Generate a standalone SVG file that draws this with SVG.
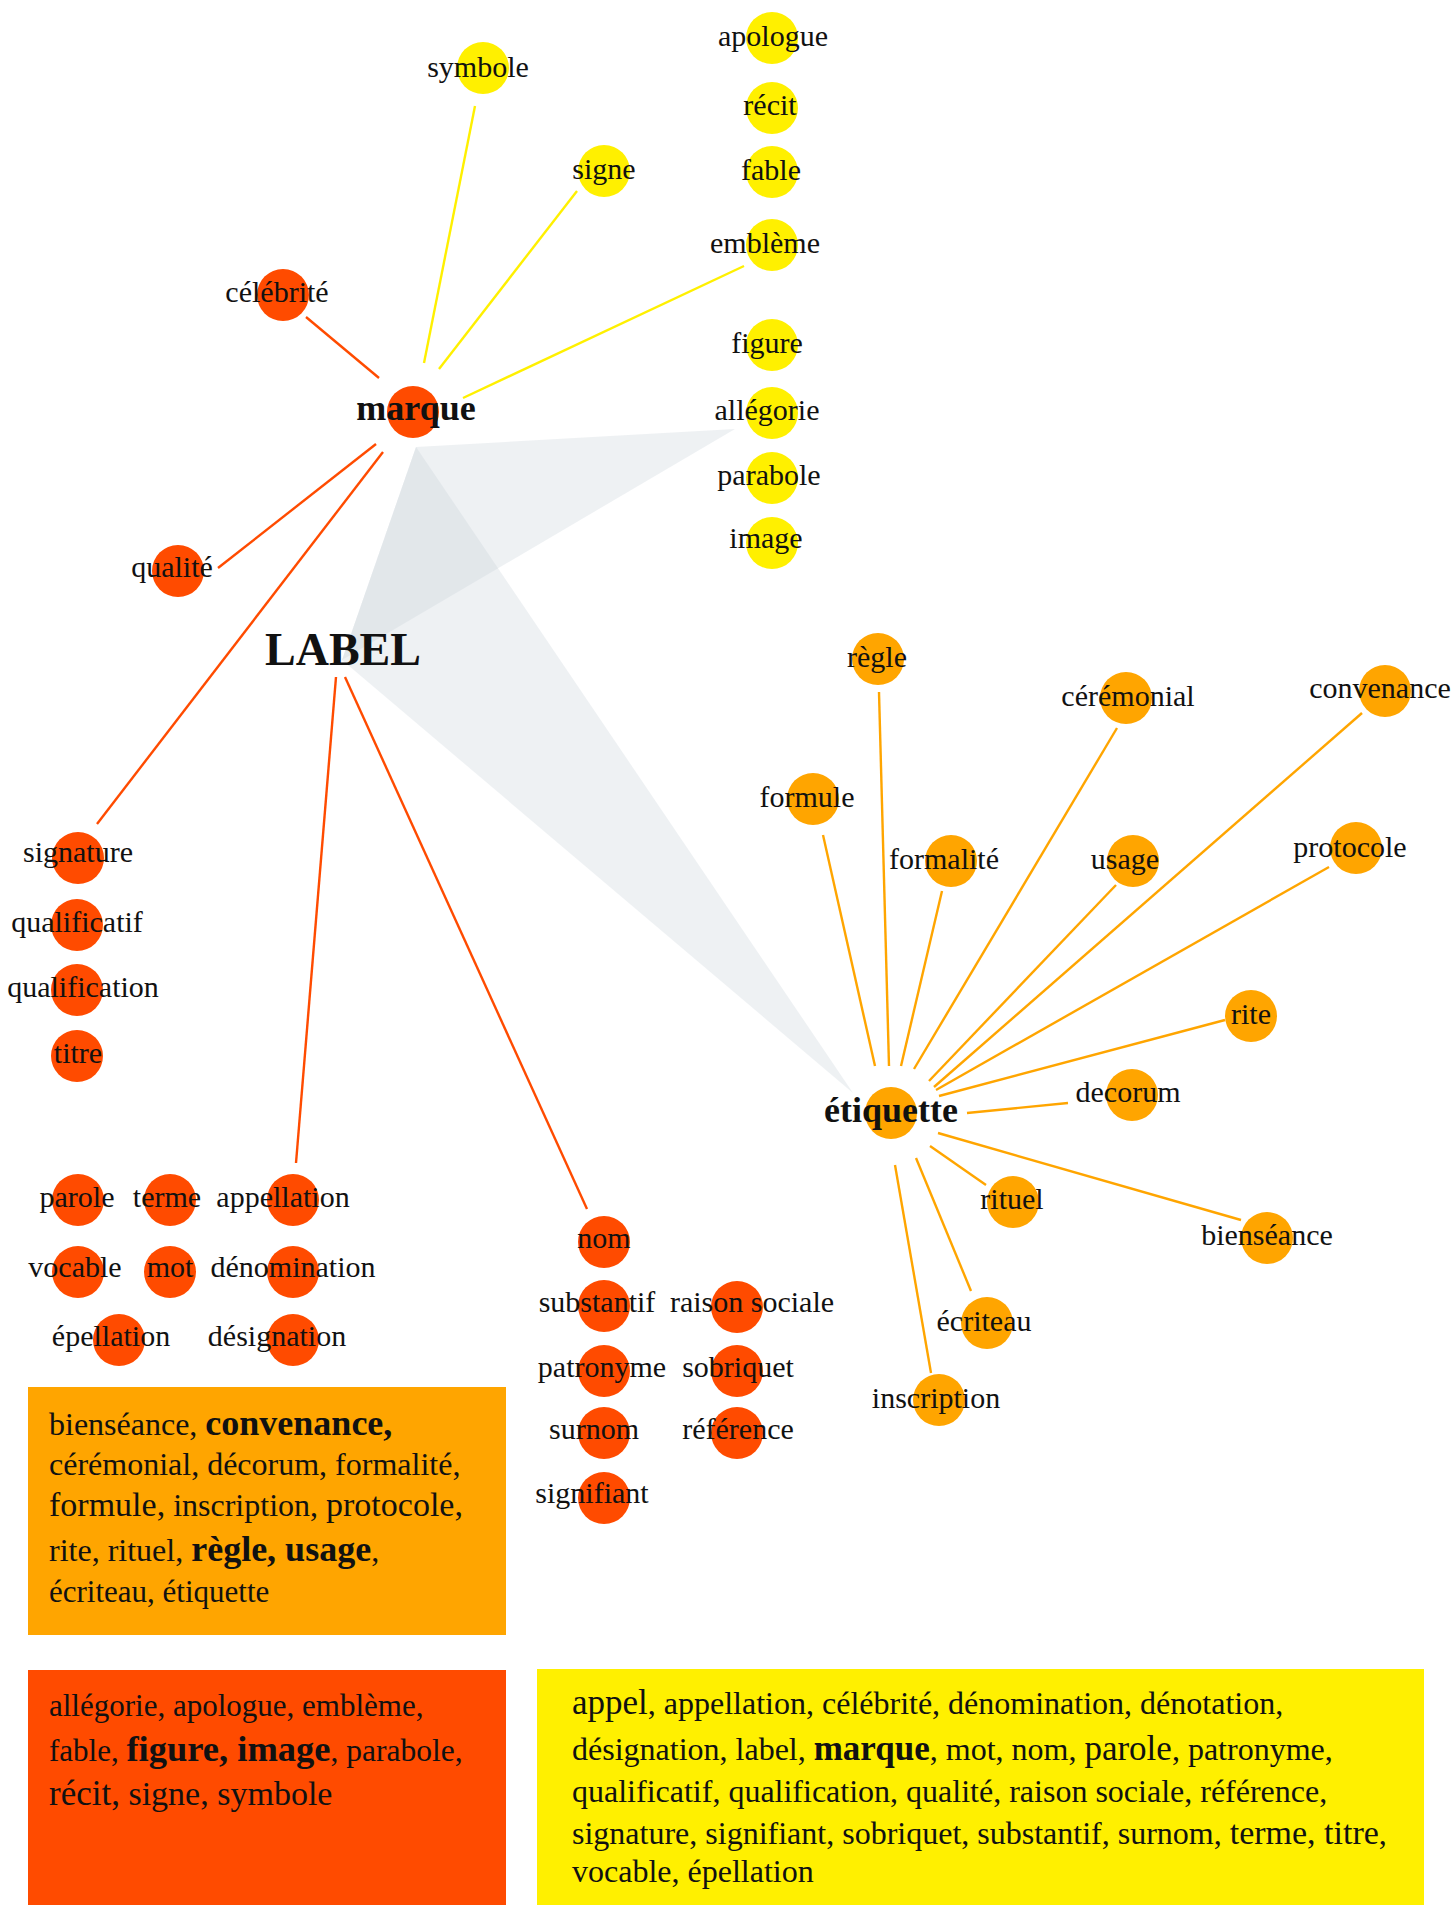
<svg xmlns="http://www.w3.org/2000/svg" width="1456" height="1905" viewBox="0 0 1456 1905">
<style>
  .bg { fill: #ffffff; }
  .tri { fill: #c8d0d8; opacity: 0.3; }
  .cr { fill: #ff4b00; }
  .co { fill: #ffa500; }
  .cy { fill: #fff000; }
  .lr { stroke: #ff4b00; stroke-width: 2.4; fill: none; }
  .lo { stroke: #ffa500; stroke-width: 2.4; fill: none; }
  .ly { stroke: #fff000; stroke-width: 2.4; fill: none; }
  text { font-family: "Liberation Serif", "DejaVu Serif", serif; fill: #111111; }
  .t { font-size: 30px; text-anchor: middle; }
  .tb { font-size: 36px; font-weight: bold; text-anchor: middle; }
  .big { font-size: 46px; font-weight: bold; text-anchor: middle; }
  .box { font-size: 32px; }
  .box31 { font-size: 31px; }
  .b { font-weight: bold; }
</style>
<rect class="bg" x="0" y="0" width="1456" height="1905"/>

<g id="shading">
  <polygon class="tri" points="416,447 735,429 342,660"/>
  <polygon class="tri" points="416,447 342,660 853,1093"/>
</g>

<g id="connectors">
  <line class="lr" x1="306" y1="317" x2="379" y2="378"/>
  <line class="lr" x1="218" y1="568" x2="376" y2="444"/>
  <line class="lr" x1="97" y1="824" x2="383" y2="452"/>
  <line class="ly" x1="475" y1="106" x2="424" y2="363"/>
  <line class="ly" x1="577" y1="191" x2="439" y2="369"/>
  <line class="ly" x1="744" y1="266" x2="463" y2="398"/>
  <line class="lr" x1="336" y1="677" x2="296" y2="1163"/>
  <line class="lr" x1="345" y1="677" x2="587" y2="1209"/>
  <line class="lo" x1="823" y1="835" x2="875" y2="1066"/>
  <line class="lo" x1="879" y1="692" x2="889" y2="1066"/>
  <line class="lo" x1="942" y1="891" x2="901" y2="1066"/>
  <line class="lo" x1="1117" y1="728" x2="914" y2="1069"/>
  <line class="lo" x1="1116" y1="885" x2="929" y2="1081"/>
  <line class="lo" x1="1362" y1="713" x2="934" y2="1087"/>
  <line class="lo" x1="1329" y1="867" x2="936" y2="1090"/>
  <line class="lo" x1="1225" y1="1020" x2="939" y2="1096"/>
  <line class="lo" x1="1068" y1="1103" x2="967" y2="1113"/>
  <line class="lo" x1="938" y1="1133" x2="1241" y2="1220"/>
  <line class="lo" x1="930" y1="1146" x2="986" y2="1185"/>
  <line class="lo" x1="916" y1="1158" x2="971" y2="1291"/>
  <line class="lo" x1="895" y1="1165" x2="931" y2="1373"/>
</g>

<!-- yellow nodes -->
<g id="n-symbole"><circle class="cy" cx="483" cy="68" r="26"/><text class="t" x="478" y="77">symbole</text></g>
<g id="n-signe"><circle class="cy" cx="604" cy="171" r="26"/><text class="t" x="604" y="179">signe</text></g>
<g id="n-apologue"><circle class="cy" cx="772" cy="38" r="26"/><text class="t" x="773" y="46">apologue</text></g>
<g id="n-recit"><circle class="cy" cx="772" cy="108" r="26"/><text class="t" x="770" y="115">récit</text></g>
<g id="n-fable"><circle class="cy" cx="772" cy="172" r="26"/><text class="t" x="771" y="180">fable</text></g>
<g id="n-embleme"><circle class="cy" cx="772" cy="245" r="26"/><text class="t" x="765" y="253">emblème</text></g>
<g id="n-figure"><circle class="cy" cx="772" cy="345" r="26"/><text class="t" x="767" y="353">figure</text></g>
<g id="n-allegorie"><circle class="cy" cx="772" cy="413" r="26"/><text class="t" x="767" y="420">allégorie</text></g>
<g id="n-parabole"><circle class="cy" cx="772" cy="478" r="26"/><text class="t" x="769" y="485">parabole</text></g>
<g id="n-image"><circle class="cy" cx="772" cy="543" r="26"/><text class="t" x="766" y="548">image</text></g>

<!-- red nodes -->
<g id="n-celebrite"><circle class="cr" cx="283" cy="295" r="26"/><text class="t" x="277" y="302">célébrité</text></g>
<g id="n-marque"><circle class="cr" cx="413" cy="412" r="26"/><text class="tb" x="416" y="420">marque</text></g>
<g id="n-qualite"><circle class="cr" cx="178" cy="571" r="26"/><text class="t" x="172" y="577">qualité</text></g>
<g id="n-label"><text class="big" x="343" y="665">LABEL</text></g>
<g id="n-signature"><circle class="cr" cx="78" cy="858" r="26"/><text class="t" x="78" y="862">signature</text></g>
<g id="n-qualificatif"><circle class="cr" cx="77" cy="925" r="26"/><text class="t" x="77" y="932">qualificatif</text></g>
<g id="n-qualification"><circle class="cr" cx="77" cy="990" r="26"/><text class="t" x="83" y="997">qualification</text></g>
<g id="n-titre"><circle class="cr" cx="77" cy="1056" r="26"/><text class="t" x="78" y="1063">titre</text></g>
<g id="n-parole"><circle class="cr" cx="78" cy="1200" r="26"/><text class="t" x="77" y="1207">parole</text></g>
<g id="n-terme"><circle class="cr" cx="170" cy="1200" r="26"/><text class="t" x="167" y="1207">terme</text></g>
<g id="n-appellation"><circle class="cr" cx="293" cy="1200" r="26"/><text class="t" x="283" y="1207">appellation</text></g>
<g id="n-vocable"><circle class="cr" cx="78" cy="1272" r="26"/><text class="t" x="75" y="1277">vocable</text></g>
<g id="n-mot"><circle class="cr" cx="170" cy="1272" r="26"/><text class="t" x="170" y="1277">mot</text></g>
<g id="n-denomination"><circle class="cr" cx="293" cy="1272" r="26"/><text class="t" x="293" y="1277">dénomination</text></g>
<g id="n-epellation"><circle class="cr" cx="119" cy="1340" r="26"/><text class="t" x="111" y="1346">épellation</text></g>
<g id="n-designation"><circle class="cr" cx="293" cy="1340" r="26"/><text class="t" x="277" y="1346">désignation</text></g>
<g id="n-nom"><circle class="cr" cx="604" cy="1242" r="26"/><text class="t" x="604" y="1248">nom</text></g>
<g id="n-substantif"><circle class="cr" cx="604" cy="1306" r="26"/><text class="t" x="597" y="1312">substantif</text></g>
<g id="n-raison-sociale"><circle class="cr" cx="737" cy="1307" r="26"/><text class="t" x="752" y="1312">raison sociale</text></g>
<g id="n-patronyme"><circle class="cr" cx="604" cy="1371" r="26"/><text class="t" x="602" y="1377">patronyme</text></g>
<g id="n-sobriquet"><circle class="cr" cx="737" cy="1371" r="26"/><text class="t" x="738" y="1377">sobriquet</text></g>
<g id="n-surnom"><circle class="cr" cx="604" cy="1433" r="26"/><text class="t" x="594" y="1439">surnom</text></g>
<g id="n-reference"><circle class="cr" cx="737" cy="1433" r="26"/><text class="t" x="738" y="1439">référence</text></g>
<g id="n-signifiant"><circle class="cr" cx="604" cy="1498" r="26"/><text class="t" x="592" y="1503">signifiant</text></g>

<!-- orange nodes -->
<g id="n-regle"><circle class="co" cx="878" cy="659" r="26"/><text class="t" x="877" y="667">règle</text></g>
<g id="n-ceremonial"><circle class="co" cx="1126" cy="698" r="26"/><text class="t" x="1128" y="706">cérémonial</text></g>
<g id="n-convenance"><circle class="co" cx="1385" cy="691" r="26"/><text class="t" x="1380" y="698">convenance</text></g>
<g id="n-formule"><circle class="co" cx="813" cy="799" r="26"/><text class="t" x="807" y="807">formule</text></g>
<g id="n-formalite"><circle class="co" cx="951" cy="861" r="26"/><text class="t" x="944" y="869">formalité</text></g>
<g id="n-usage"><circle class="co" cx="1133" cy="861" r="26"/><text class="t" x="1125" y="869">usage</text></g>
<g id="n-protocole"><circle class="co" cx="1356" cy="848" r="26"/><text class="t" x="1350" y="857">protocole</text></g>
<g id="n-rite"><circle class="co" cx="1251" cy="1016" r="26"/><text class="t" x="1251" y="1024">rite</text></g>
<g id="n-decorum"><circle class="co" cx="1132" cy="1095" r="26"/><text class="t" x="1128" y="1102">decorum</text></g>
<g id="n-etiquette"><circle class="co" cx="891" cy="1113" r="26"/><text class="tb" x="891" y="1122">étiquette</text></g>
<g id="n-rituel"><circle class="co" cx="1013" cy="1202" r="26"/><text class="t" x="1012" y="1209">rituel</text></g>
<g id="n-bienseance"><circle class="co" cx="1267" cy="1238" r="26"/><text class="t" x="1267" y="1245">bienséance</text></g>
<g id="n-ecriteau"><circle class="co" cx="987" cy="1323" r="26"/><text class="t" x="984" y="1331">écriteau</text></g>
<g id="n-inscription"><circle class="co" cx="939" cy="1400" r="26"/><text class="t" x="936" y="1408">inscription</text></g>

<!-- legend boxes -->
<g id="box-orange">
  <rect x="28" y="1387" width="478" height="248" fill="#ffa500"/>
  <text class="box" x="49" y="1435">bienséance, <tspan class="b" font-size="36">convenance,</tspan></text>
  <text class="box" x="49" y="1475">cérémonial, décorum, formalité,</text>
  <text class="box" x="49" y="1516"><tspan font-size="34">formule,</tspan> inscription, <tspan font-size="34">protocole,</tspan></text>
  <text class="box" x="49" y="1561">rite, rituel, <tspan class="b" font-size="36">règle, usage</tspan>,</text>
  <text class="box31" x="49" y="1602">écriteau, étiquette</text>
</g>
<g id="box-red">
  <rect x="28" y="1670" width="478" height="235" fill="#ff4b00"/>
  <text class="box31" x="49" y="1716">allégorie, apologue, emblème,</text>
  <text class="box31" x="49" y="1761">fable, <tspan class="b" font-size="36.5">figure, image</tspan><tspan font-size="31.5">, parabole,</tspan></text>
  <text class="box31" x="49" y="1805"><tspan font-size="35">récit,</tspan><tspan font-size="34"> signe, symbole</tspan></text>
</g>
<g id="box-yellow">
  <rect x="537" y="1669" width="887" height="236" fill="#fff000"/>
  <text class="box" x="572" y="1714"><tspan font-size="35">appel</tspan>, appellation, célébrité, dénomination, dénotation,</text>
  <text class="box" x="572" y="1760">désignation, label, <tspan class="b" font-size="35">marque</tspan>, mot, nom, <tspan font-size="35">parole</tspan>, patronyme,</text>
  <text class="box" x="572" y="1802">qualificatif, qualification, qualité, raison sociale, référence,</text>
  <text class="box" x="572" y="1844">signature, signifiant, sobriquet, substantif, surnom, <tspan font-size="34">terme, titre</tspan>,</text>
  <text class="box" x="572" y="1882">vocable, épellation</text>
</g>
</svg>
